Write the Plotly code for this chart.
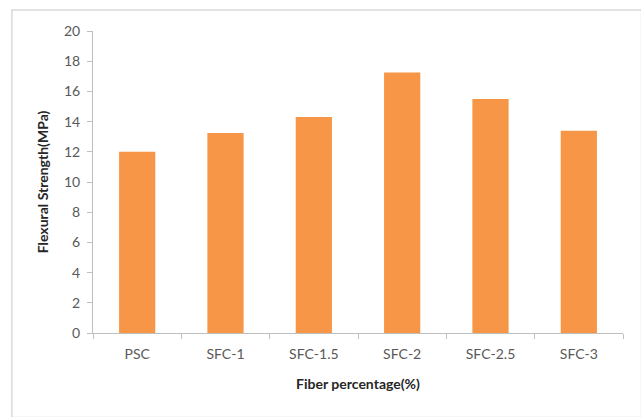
import plotly.graph_objects as go

# Flexural strength by fibre content
categories = ["PSC", "SFC-1", "SFC-1.5", "SFC-2", "SFC-2.5", "SFC-3"]
strength_mpa = [12.0, 13.25, 14.3, 17.25, 15.5, 13.4]
y_ticks = [0, 2, 4, 6, 8, 10, 12, 14, 16, 18, 20]

bar_color = "#F79646"
axis_gray = "#BFBFBF"
text_gray = "#595959"
font_family = "Lato, Carlito, Liberation Sans, sans-serif"

fig = go.Figure(
    go.Bar(
        x=categories,
        y=strength_mpa,
        marker=dict(color=bar_color, line=dict(width=0)),
        width=0.41,
    )
)

fig.update_layout(
    width=641,
    height=417,
    margin=dict(l=93, r=18, t=31, b=84),
    paper_bgcolor="white",
    plot_bgcolor="white",
    showlegend=False,
    font=dict(family=font_family, size=14, color=text_gray),
    shapes=[
        dict(
            type="rect", xref="paper", yref="paper",
            x0=-0.153, x1=1.035, y0=-0.28, y1=1.0695,
            line=dict(color="#D9D9D9", width=1.5),
            fillcolor="rgba(0,0,0,0)", layer="below",
        )
    ],
)

fig.update_xaxes(
    type="category",
    showline=True, linecolor=axis_gray, linewidth=1,
    ticks="outside", tickson="boundaries", ticklen=5, tickcolor=axis_gray,
    ticklabelstandoff=8,
    showgrid=False,
    tickfont=dict(size=14, color=text_gray),
    title=dict(text="<b>Fiber percentage(%)</b>",
               font=dict(size=14, color="#262626"), standoff=18),
)

fig.update_yaxes(
    range=[0, 20],
    tickvals=y_ticks,
    showline=True, linecolor=axis_gray, linewidth=1,
    ticks="outside", ticklen=5, tickcolor=axis_gray,
    ticklabelstandoff=4,
    showgrid=False, zeroline=False,
    tickfont=dict(size=14, color=text_gray),
    title=dict(text="<b>Flexural Strength(MPa)</b>",
               font=dict(size=14, color="#262626"), standoff=12),
)

fig.write_html("out.html")
